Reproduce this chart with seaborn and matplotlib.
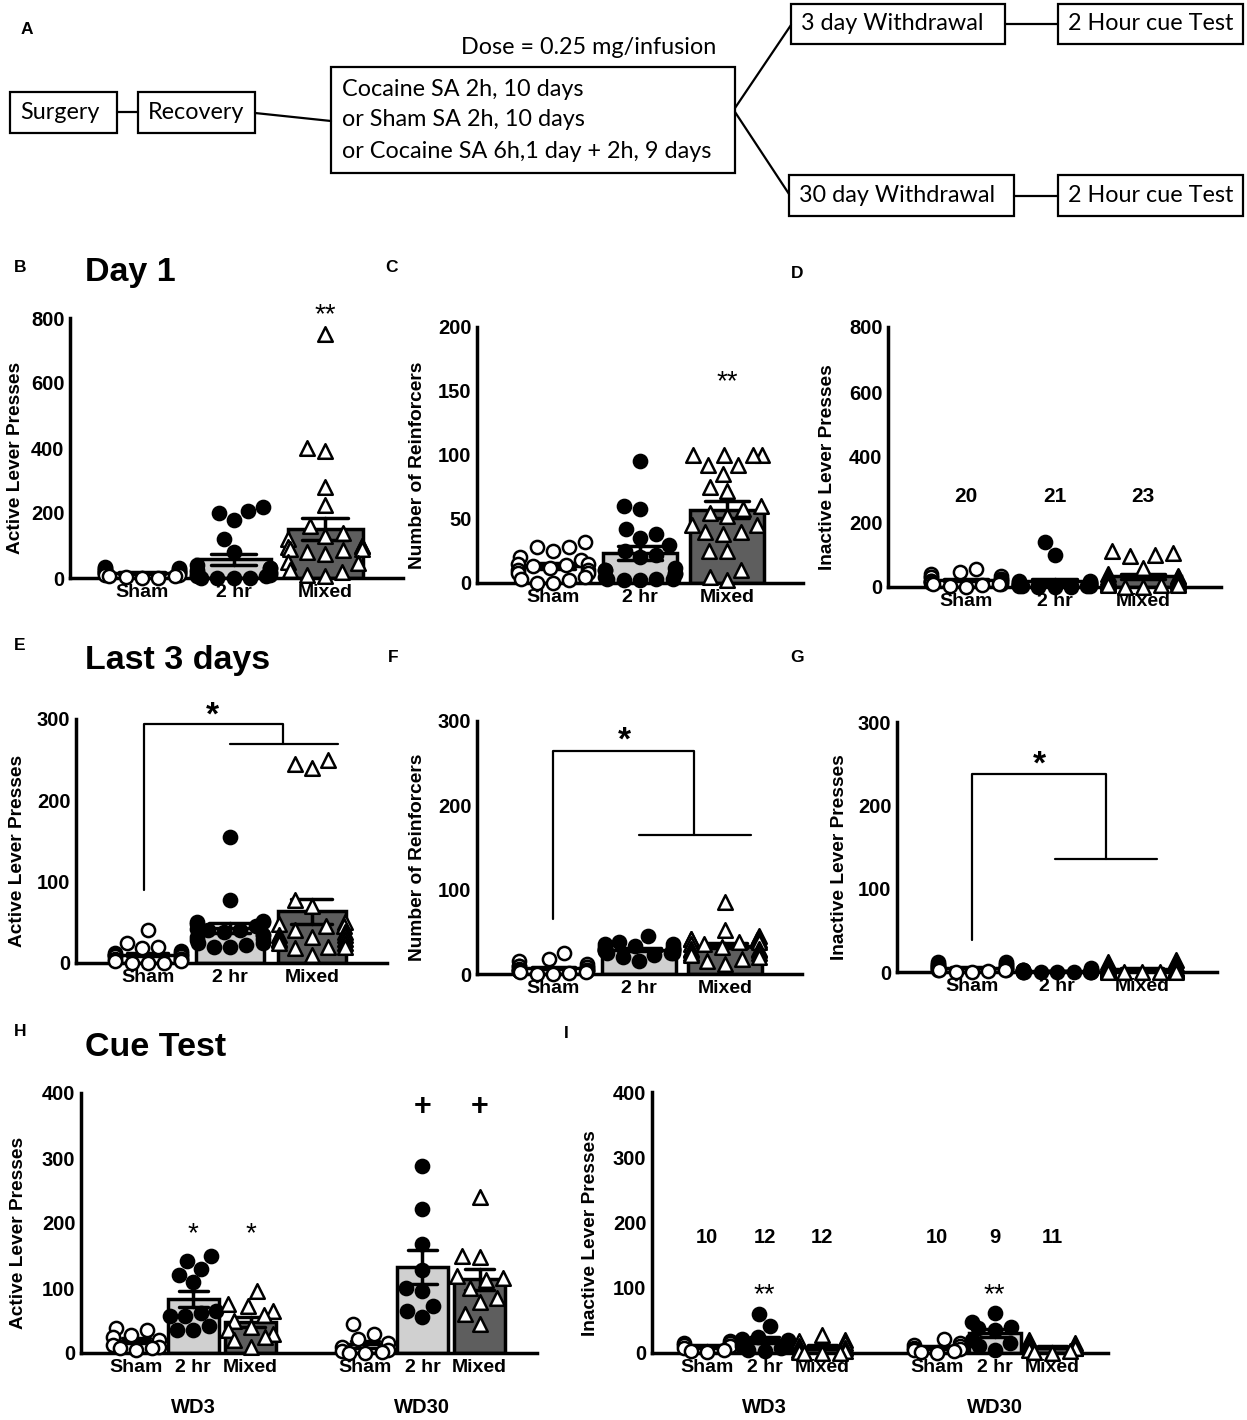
import warnings
import numpy as np
import pandas as pd
import matplotlib
matplotlib.use("Agg")
import matplotlib.pyplot as plt
import seaborn as sns
from matplotlib.patches import Rectangle

warnings.filterwarnings("ignore")

groups = ["Sham", "2 hr", "Mixed"]

# B - Day 1, active lever presses
b_sham = [35, 30, 30, 28, 25, 25, 22, 20, 20, 18, 15, 15, 12, 10, 8, 5, 5, 2, 0, 0]
b_2hr = [220, 205, 200, 180, 120, 80, 40, 30, 30, 25, 20, 20, 15, 10, 10, 5, 5, 0, 0, 0, 0]
b_mixed = [750, 400, 390, 280, 225, 160, 140, 130, 120, 100, 100, 95, 90, 90, 85, 80, 75,
           50, 45, 25, 20, 10, 5]
# C - Day 1, reinforcers
c_sham = [32, 28, 28, 25, 20, 18, 15, 15, 14, 13, 12, 10, 10, 8, 8, 5, 3, 2, 0, 0]
c_2hr = [95, 60, 58, 42, 38, 35, 30, 25, 22, 20, 12, 10, 10, 8, 7, 5, 3, 3, 3, 2, 2]
c_mixed = [100, 100, 100, 100, 92, 92, 85, 75, 72, 60, 58, 55, 52, 45, 45, 40, 40, 38,
           25, 25, 10, 5, 2]
# D - Day 1, inactive lever presses
d_sham = [55, 45, 40, 35, 30, 30, 25, 25, 20, 20, 18, 15, 15, 12, 10, 10, 8, 5, 2, 0]
d_2hr = [140, 100, 20, 18, 15, 15, 12, 10, 10, 8, 8, 5, 5, 5, 3, 3, 2, 2, 0, 0, 0]
d_mixed = [110, 105, 100, 95, 60, 40, 35, 30, 30, 25, 25, 20, 20, 15, 15, 10, 10, 10,
           5, 5, 5, 0, 0]
d_n = ["20", "21", "23"]
# E - last 3 days, active lever presses
e_sham = [40, 25, 20, 18, 15, 12, 12, 10, 10, 10, 8, 8, 5, 5, 5, 3, 2, 0, 0, 0]
e_2hr = [155, 78, 52, 50, 50, 48, 45, 42, 40, 40, 38, 35, 35, 32, 30, 28, 25, 25, 22, 20, 20]
e_mixed = [250, 245, 240, 78, 70, 50, 48, 45, 45, 40, 38, 35, 35, 32, 30, 30, 28, 25, 25,
           20, 20, 18, 10]
# F - last 3 days, reinforcers
f_sham = [25, 18, 15, 12, 10, 10, 8, 8, 6, 5, 5, 5, 4, 3, 3, 2, 2, 1, 0, 0]
f_2hr = [45, 38, 35, 35, 33, 32, 32, 30, 30, 30, 28, 28, 28, 27, 27, 25, 25, 25, 22, 20, 15]
f_mixed = [85, 52, 45, 42, 42, 40, 40, 38, 38, 35, 35, 32, 30, 30, 28, 28, 25, 25, 22, 20,
           18, 15, 12]
# G - last 3 days, inactive lever presses
g_sham = [12, 12, 10, 10, 8, 8, 7, 6, 6, 5, 5, 4, 4, 3, 3, 2, 2, 1, 0, 0]
g_2hr = [5, 3, 3, 2, 2, 2, 1, 1, 1, 1, 1, 1, 0, 0, 0, 0, 0, 0, 0, 0, 0]
g_mixed = [14, 12, 10, 10, 8, 6, 5, 5, 4, 4, 3, 3, 2, 2, 2, 1, 1, 1, 0, 0, 0, 0, 0]
# H - cue test, active lever presses
h_wd3_sham = [38, 35, 28, 25, 20, 12, 10, 8, 8, 5]
h_wd3_2hr = [150, 141, 130, 120, 109, 65, 62, 57, 57, 41, 36, 36]
h_wd3_mixed = [95, 75, 72, 65, 58, 50, 40, 35, 30, 25, 20, 10]
h_wd30_sham = [45, 30, 22, 15, 10, 5, 3, 2, 0, 0]
h_wd30_2hr = [288, 222, 168, 128, 100, 95, 73, 64, 55]
h_wd30_mixed = [240, 150, 148, 118, 115, 112, 100, 85, 78, 60, 45]
# I - cue test, inactive lever presses
i_wd3_sham = [18, 16, 15, 12, 10, 10, 8, 5, 3, 2]
i_wd3_2hr = [60, 42, 25, 22, 20, 18, 15, 12, 10, 8, 5, 3]
i_wd3_mixed = [28, 20, 18, 15, 10, 8, 5, 3, 2, 0, 0, 0]
i_wd30_sham = [22, 15, 12, 10, 8, 6, 5, 3, 2, 0]
i_wd30_2hr = [62, 48, 40, 38, 35, 20, 15, 10, 5]
i_wd30_mixed = [20, 15, 14, 12, 10, 8, 8, 5, 3, 2, 0]
i_n = ["10", "12", "12", "10", "9", "11"]
withdrawal = ["WD3", "WD30"]

W, H = 1247, 1420
sns.set_theme(style="white", rc={"text.color": "black", "axes.labelcolor": "black",
                                 "xtick.color": "black", "ytick.color": "black"})
plt.rcParams["font.family"] = ["Liberation Sans", "DejaVu Sans"]

fig = plt.figure(figsize=(W / 100, H / 100), dpi=100)
fig.patch.set_facecolor("white")

bar_colors = {"Sham": "white", "2 hr": "#d0d0d0", "Mixed": "#5e5e5e"}
point_style = {"Sham": ("o", "white", 9.5), "2 hr": ("o", "black", 9.5),
               "Mixed": ("^", "white", 10.5)}

# overlay in pixel coordinates for the flow chart and the panel letters
ov = fig.add_axes([0, 0, 1, 1])
ov.set_xlim(0, W)
ov.set_ylim(H, 0)
ov.axis("off")

flow = dict(family=["Lato", "DejaVu Sans"], fontsize=16.8, color="black", va="center")
for x0, y0, x1, y1, txt in [(10, 92, 117, 133, "Surgery"), (138, 92, 255, 133, "Recovery"),
                            (791, 4, 1005, 44, "3 day Withdrawal"),
                            (1058, 4, 1243, 44, "2 Hour cue Test"),
                            (789, 175, 1014, 216, "30 day Withdrawal"),
                            (1058, 175, 1243, 216, "2 Hour cue Test")]:
    ov.add_patch(Rectangle((x0, y0), x1 - x0, y1 - y0, fill=False, lw=1.6, ec="black"))
    ov.text(x0 + 10, (y0 + y1) / 2, txt, ha="left", **flow)
ov.add_patch(Rectangle((331, 67), 404, 106, fill=False, lw=1.6, ec="black"))
for yy, txt in [(89, "Cocaine SA 2h, 10 days"), (120, "or Sham SA 2h, 10 days"),
                (151, "or Cocaine SA 6h,1 day + 2h, 9 days")]:
    ov.text(342, yy, txt, ha="left", **flow)
ov.text(589, 48, "Dose = 0.25 mg/infusion", ha="center", **flow)
for (xa, ya), (xb, yb) in [((117, 112), (138, 112)), ((255, 113), (331, 121)),
                           ((735, 108), (791, 25)), ((735, 112), (789, 194)),
                           ((1005, 24), (1058, 24)), ((1014, 196), (1058, 196))]:
    ov.plot([xa, xb], [ya, yb], color="black", lw=1.6)

for x, y, s in [(27, 30, "A"), (20, 268, "B"), (392, 268, "C"), (797, 273, "D"),
                (20, 646, "E"), (393, 657, "F"), (797, 657, "G"), (20, 1032, "H"),
                (566, 1034, "I")]:
    ov.text(x, y, s, ha="center", va="center", fontsize=12.5, fontweight="bold")
for x, y, s in [(85, 272, "Day 1"), (85, 660, "Last 3 days"), (85, 1047, "Cue Test")]:
    ov.text(x, y, s, ha="left", va="center", fontsize=24.5, fontweight="bold")


def draw_panel(box, sets, order, xlim, ymax, ystep, ylabel, label_px, width):
    left, top, right, bottom = box
    ax = fig.add_axes([left / W, 1 - bottom / H, (right - left) / W, (bottom - top) / H])
    ax.set_facecolor("none")
    df = pd.DataFrame([(c, g, v) for c, g, vals in sets for v in vals],
                      columns=["cond", "grp", "val"])
    for g in groups:
        sub = df[df["grp"] == g]
        sns.barplot(data=sub, x="cond", y="val", order=order, color=bar_colors[g],
                    saturation=1, width=width, errorbar="se", capsize=0.5,
                    edgecolor="black", linewidth=2.5,
                    err_kws={"color": "black", "linewidth": 2.5}, ax=ax)
    for g in groups:
        sub = df[df["grp"] == g]
        m, fc, sz = point_style[g]
        sns.swarmplot(data=sub, x="cond", y="val", order=order, marker=m, color=fc,
                      edgecolor="black", linewidth=1.8, size=sz, ax=ax)
    for c in ax.collections:
        c.set_clip_on(False)
    ax.set_xlim(*xlim)
    ax.set_ylim(0, ymax)
    ax.set_yticks(np.arange(0, ymax + 1, ystep))
    for s in ["top", "right"]:
        ax.spines[s].set_visible(False)
    for s in ["left", "bottom"]:
        ax.spines[s].set_linewidth(2.5)
        ax.spines[s].set_color("black")
    ax.tick_params(axis="y", length=0, pad=4, labelsize=14.5)
    ax.tick_params(axis="x", length=0, pad=4, labelsize=14)
    ax.set_xlabel("")
    ax.set_ylabel(ylabel, fontsize=13.8, fontweight="bold")
    ax.yaxis.set_label_coords((label_px - left) / (right - left), 0.46)
    ax.yaxis.label.set_va("center")
    return ax


def bold_ticks(ax):
    for lbl in ax.get_xticklabels() + ax.get_yticklabels():
        lbl.set_fontweight("bold")


def bracket(ax, x_left, y_low, y_top, x_mid, y_mid, x_a, x_b, star_x, star_y):
    ax.plot([x_left, x_left, x_mid, x_mid], [y_low, y_top, y_top, y_mid],
            color="black", lw=1.6, clip_on=False)
    ax.plot([x_a, x_b], [y_mid, y_mid], color="black", lw=1.6, clip_on=False)
    ax.text(star_x, star_y, "*", ha="center", va="center", fontsize=24, fontweight="bold")


def three(a, b, c):
    return [(groups[0], groups[0], a), (groups[1], groups[1], b), (groups[2], groups[2], c)]


# B
ax = draw_panel((70, 318, 403, 578), three(b_sham, b_2hr, b_mixed), groups,
                (-0.787, 2.852), 800, 200, "Active Lever Presses", 16, 0.82)
ax.text(2, 810, "**", ha="center", va="center", fontsize=20)
bold_ticks(ax)

# C
ax = draw_panel((477, 327, 803, 583), three(c_sham, c_2hr, c_mixed), groups,
                (-0.874, 2.874), 200, 50, "Number of Reinforcers", 418, 0.86)
ax.text(2, 157, "**", ha="center", va="center", fontsize=20)
bold_ticks(ax)

# D
ax = draw_panel((888, 327, 1221, 587), three(d_sham, d_2hr, d_mixed), groups,
                (-0.881, 2.881), 800, 200, "Inactive Lever Presses", 828, 0.85)
for i, n in enumerate(d_n):
    ax.text(i, 277, n, ha="center", va="center", fontsize=15, fontweight="bold")
bold_ticks(ax)

# E
ax = draw_panel((76, 719, 387, 963), three(e_sham, e_2hr, e_mixed), groups,
                (-0.878, 2.915), 300, 100, "Active Lever Presses", 18, 0.83)
bracket(ax, -0.05, 90, 294, 1.65, 269, 1.0, 2.32, 0.78, 303)
bold_ticks(ax)

# F
ax = draw_panel((477, 721, 802, 974), three(f_sham, f_2hr, f_mixed), groups,
                (-0.884, 2.895), 300, 100, "Number of Reinforcers", 418, 0.86)
bracket(ax, 0.0, 65, 264, 1.64, 165, 1.0, 2.3, 0.83, 276)
bold_ticks(ax)

# G
ax = draw_panel((897, 722, 1217, 972), three(g_sham, g_2hr, g_mixed), groups,
                (-0.882, 2.88), 300, 100, "Inactive Lever Presses", 840, 0.85)
bracket(ax, 0.0, 38, 238, 1.58, 136, 0.98, 2.18, 0.79, 248)
bold_ticks(ax)

# H and I: two withdrawal periods with a gap between them
wd_order = [f"{withdrawal[0]} {g}" for g in groups] + [""] + \
           [f"{withdrawal[1]} {g}" for g in groups]
wd_ticks = groups + [""] + groups


def six(a, b, c, d, e, f):
    vals = [a, b, c, d, e, f]
    out = []
    for k, w in enumerate(withdrawal):
        for j, g in enumerate(groups):
            out.append((f"{w} {g}", g, vals[k * 3 + j]))
    return out


ax = draw_panel((81, 1093, 537, 1353),
                six(h_wd3_sham, h_wd3_2hr, h_wd3_mixed, h_wd30_sham, h_wd30_2hr, h_wd30_mixed),
                wd_order, (-0.96, 7.0), 400, 100, "Active Lever Presses", 19, 0.9)
ax.set_xticks(range(7))
ax.set_xticklabels(wd_ticks)
for x in [1, 2]:
    ax.text(x, 183, "*", ha="center", va="center", fontsize=20)
for x in [5, 6]:
    ax.text(x, 378, "+", ha="center", va="center", fontsize=22, fontweight="bold")
for x, w in zip([1, 5], withdrawal):
    ax.text(x, -0.21, w, transform=ax.get_xaxis_transform(), ha="center", va="center",
            fontsize=14.5, fontweight="bold")
bold_ticks(ax)

ax = draw_panel((652, 1092, 1108, 1353),
                six(i_wd3_sham, i_wd3_2hr, i_wd3_mixed, i_wd30_sham, i_wd30_2hr, i_wd30_mixed),
                wd_order, (-0.96, 6.97), 400, 100, "Inactive Lever Presses", 590, 0.9)
ax.set_xticks(range(7))
ax.set_xticklabels(wd_ticks)
for x, n in zip([0, 1, 2, 4, 5, 6], i_n):
    ax.text(x, 177, n, ha="center", va="center", fontsize=14.5, fontweight="bold")
for x in [1, 5]:
    ax.text(x, 89, "**", ha="center", va="center", fontsize=20)
for x, w in zip([1, 5], withdrawal):
    ax.text(x, -0.21, w, transform=ax.get_xaxis_transform(), ha="center", va="center",
            fontsize=14.5, fontweight="bold")
bold_ticks(ax)

fig.savefig("out.png", dpi=100, facecolor="white")
